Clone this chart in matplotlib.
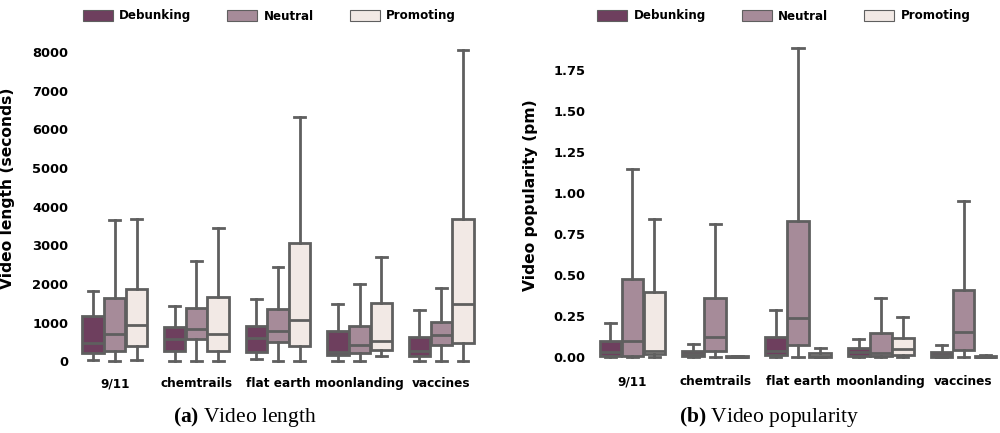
import matplotlib
matplotlib.use("Agg")
import matplotlib.pyplot as plt
from matplotlib.patches import Patch
import numpy as np

plt.rcParams["font.family"] = "DejaVu Sans"
plt.rcParams["mathtext.fontset"] = "custom"
plt.rcParams["mathtext.rm"] = "Liberation Serif"
plt.rcParams["mathtext.bf"] = "Liberation Serif:bold"

topics = ["9/11", "chemtrails", "flat earth", "moonlanding", "vaccines"]
groups = ["Debunking", "Neutral", "Promoting"]
colors = ["#6e3f5e", "#a68b99", "#f2e9e5"]

# five-number summaries per topic: (low whisker, q1, median, q3, high whisker)
length_debunking = [(34, 207, 483, 1172, 1819), (0, 259, 586, 879, 1440), (69, 241, 612, 922, 1603),
                    (17, 172, 233, 793, 1474), (0, 147, 276, 629, 1319)]
length_neutral = [(0, 267, 707, 1647, 3655), (0, 569, 828, 1388, 2595), (0, 509, 776, 1345, 2431),
                  (0, 207, 422, 922, 2009), (0, 422, 681, 1017, 1905)]
length_promoting = [(34, 397, 940, 1871, 3681), (0, 276, 707, 1655, 3457), (0, 405, 1078, 3052, 6326),
                    (138, 293, 526, 1517, 2707), (0, 466, 1483, 3690, 8050)]

pop_debunking = [(0, 0.006, 0.026, 0.098, 0.206), (0, 0.002, 0.018, 0.033, 0.077), (0, 0.008, 0.035, 0.122, 0.283),
                 (0, 0.002, 0.026, 0.053, 0.108), (0, 0.0, 0.010, 0.029, 0.073)]
pop_neutral = [(0, 0.006, 0.098, 0.477, 1.145), (0, 0.037, 0.120, 0.357, 0.811), (0, 0.069, 0.234, 0.831, 1.885),
               (0, 0.002, 0.022, 0.143, 0.357), (0, 0.039, 0.153, 0.405, 0.952)]
pop_promoting = [(0, 0.018, 0.037, 0.393, 0.842), (0, 0.0, 0.001, 0.004, 0.006), (0, 0.0, 0.006, 0.020, 0.055),
                 (0, 0.010, 0.047, 0.116, 0.240), (0, 0.0, 0.001, 0.005, 0.010)]

edge = "#5f5f5f"


def draw_panel(ax, series, ylim, yticks, yfmt, ylabel, label_xy, legend_xy):
    w = 0.8 / 3
    for gi, (data, col) in enumerate(zip(series, colors)):
        stats = []
        for s in data:
            stats.append(dict(whislo=s[0], q1=s[1], med=s[2], q3=s[3], whishi=s[4]))
        pos = np.arange(len(topics)) + (gi - 1) * w
        ax.bxp(stats, positions=pos, widths=w * 0.98, showfliers=False, patch_artist=True,
               capwidths=w * 0.5,
               boxprops=dict(facecolor=col, edgecolor=edge, linewidth=2),
               medianprops=dict(color=edge, linewidth=2),
               whiskerprops=dict(color=edge, linewidth=2),
               capprops=dict(color=edge, linewidth=2))
    ax.set_xlim(-0.5, len(topics) - 0.5)
    ax.set_ylim(*ylim)
    ax.set_xticks(np.arange(len(topics)))
    ax.set_xticklabels(topics, fontsize=8.7, fontweight="bold")
    ax.set_yticks(yticks)
    ax.set_yticklabels([yfmt.format(v) for v in yticks], fontsize=9.4, fontweight="bold")
    ax.tick_params(axis="y", length=0, pad=4)
    ax.tick_params(axis="x", length=0, pad=6)
    for sp in ax.spines.values():
        sp.set_visible(False)
    ax.set_ylabel(ylabel, fontsize=11.2, fontweight="bold")
    ax.yaxis.set_label_coords(*label_xy, transform=fig.transFigure)
    handles = [Patch(facecolor=c, edgecolor=edge, linewidth=0.8) for c in colors]
    ax.legend(handles, groups, ncol=3, frameon=False, loc="center",
              bbox_to_anchor=legend_xy, bbox_transform=fig.transFigure,
              handlelength=2.5, handleheight=1.0, columnspacing=3.0, handletextpad=0.55,
              borderpad=0, borderaxespad=0, prop=dict(size=8.6, weight="bold"))


fig = plt.figure(figsize=(10, 4.33), dpi=100)

ax1 = fig.add_axes([0.074, 0.1478, 0.408, 0.7725])
draw_panel(ax1, [length_debunking, length_neutral, length_promoting],
           (-200, 8450), np.arange(0, 8001, 1000), "{:.0f}", "Video length (seconds)",
           (0.015, 1 - 188 / 433), (0.2695, 1 - 16 / 433))

ax2 = fig.add_axes([0.591, 0.1524, 0.414, 0.7718])
draw_panel(ax2, [pop_debunking, pop_neutral, pop_promoting],
           (-0.063, 1.98), np.arange(0, 1.76, 0.25), "{:.2f}", "Video popularity (pm)",
           (0.538, 1 - 195 / 433), (0.784, 1 - 16 / 433))

fig.text(0.245, 0.038, r"$\bf{(a)}$ Video length", ha="center", va="center",
         fontsize=15.5, family="Liberation Serif")
fig.text(0.769, 0.038, r"$\bf{(b)}$ Video popularity", ha="center", va="center",
         fontsize=15.5, family="Liberation Serif")

fig.savefig("out.png", dpi=100)
